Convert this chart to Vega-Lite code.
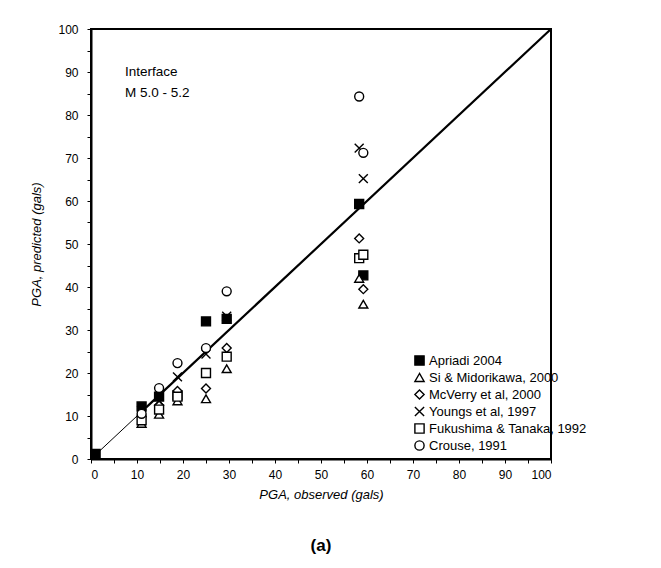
{
  "$schema": "https://vega.github.io/schema/vega-lite/v6.json",
  "autosize": "none",
  "width": 460,
  "height": 430,
  "padding": {"left": 91, "top": 29, "right": 110, "bottom": 109},
  "background": "white",
  "config": {
    "font": "Liberation Sans",
    "view": {"stroke": "black", "strokeWidth": 2},
    "axis": {
      "domainColor": "black",
      "domainWidth": 2,
      "tickColor": "black",
      "tickWidth": 1,
      "tickSize": 4,
      "labelFont": "Liberation Sans",
      "labelFontSize": 12,
      "labelColor": "black",
      "titleFont": "Liberation Sans",
      "titleFontSize": 13,
      "titleFontStyle": "italic",
      "titleFontWeight": "normal",
      "titleColor": "black",
      "grid": false
    },
    "legend": {
      "labelFont": "Liberation Sans",
      "labelFontSize": 13,
      "labelColor": "black",
      "symbolStrokeWidth": 1.4,
      "symbolSize": 85,
      "rowPadding": 2,
      "labelOffset": 3
    }
  },
  "title": {
    "text": "(a)",
    "orient": "bottom",
    "anchor": "middle",
    "fontSize": 17,
    "fontWeight": "bold",
    "font": "Liberation Sans",
    "color": "black",
    "offset": 37
  },
  "datasets": {
    "pga": [
      {"model": "Apriadi 2004", "obs": 1, "pred": 1.2},
      {"model": "Apriadi 2004", "obs": 11, "pred": 12.2},
      {"model": "Apriadi 2004", "obs": 14.8, "pred": 14.5},
      {"model": "Apriadi 2004", "obs": 18.8, "pred": 14.8},
      {"model": "Apriadi 2004", "obs": 25, "pred": 32},
      {"model": "Apriadi 2004", "obs": 29.5, "pred": 32.6},
      {"model": "Apriadi 2004", "obs": 58.3, "pred": 59.3},
      {"model": "Apriadi 2004", "obs": 59.2, "pred": 42.7},
      {"model": "Si & Midorikawa, 2000", "obs": 11, "pred": 8.3},
      {"model": "Si & Midorikawa, 2000", "obs": 14.8, "pred": 10.4},
      {"model": "Si & Midorikawa, 2000", "obs": 18.8, "pred": 13.5},
      {"model": "Si & Midorikawa, 2000", "obs": 25, "pred": 14},
      {"model": "Si & Midorikawa, 2000", "obs": 29.5, "pred": 21},
      {"model": "Si & Midorikawa, 2000", "obs": 58.3, "pred": 42},
      {"model": "Si & Midorikawa, 2000", "obs": 59.2, "pred": 36},
      {"model": "McVerry et al, 2000", "obs": 11, "pred": 9.8},
      {"model": "McVerry et al, 2000", "obs": 14.8, "pred": 12.5},
      {"model": "McVerry et al, 2000", "obs": 18.8, "pred": 15.8},
      {"model": "McVerry et al, 2000", "obs": 25, "pred": 16.4},
      {"model": "McVerry et al, 2000", "obs": 29.5, "pred": 25.8},
      {"model": "McVerry et al, 2000", "obs": 58.3, "pred": 51.3},
      {"model": "McVerry et al, 2000", "obs": 59.2, "pred": 39.5},
      {"model": "Youngs et al, 1997", "obs": 11, "pred": 11.3},
      {"model": "Youngs et al, 1997", "obs": 14.8, "pred": 13.5},
      {"model": "Youngs et al, 1997", "obs": 18.8, "pred": 19.1},
      {"model": "Youngs et al, 1997", "obs": 25, "pred": 24.4},
      {"model": "Youngs et al, 1997", "obs": 29.5, "pred": 33.2},
      {"model": "Youngs et al, 1997", "obs": 58.3, "pred": 72.3},
      {"model": "Youngs et al, 1997", "obs": 59.2, "pred": 65.2},
      {"model": "Fukushima & Tanaka, 1992", "obs": 11, "pred": 9},
      {"model": "Fukushima & Tanaka, 1992", "obs": 14.8, "pred": 11.5},
      {"model": "Fukushima & Tanaka, 1992", "obs": 18.8, "pred": 14.5},
      {"model": "Fukushima & Tanaka, 1992", "obs": 25, "pred": 20},
      {"model": "Fukushima & Tanaka, 1992", "obs": 29.5, "pred": 23.8},
      {"model": "Fukushima & Tanaka, 1992", "obs": 58.3, "pred": 46.7},
      {"model": "Fukushima & Tanaka, 1992", "obs": 59.2, "pred": 47.5},
      {"model": "Crouse, 1991", "obs": 11, "pred": 10.5},
      {"model": "Crouse, 1991", "obs": 14.8, "pred": 16.5},
      {"model": "Crouse, 1991", "obs": 18.8, "pred": 22.3},
      {"model": "Crouse, 1991", "obs": 25, "pred": 25.8},
      {"model": "Crouse, 1991", "obs": 29.5, "pred": 39},
      {"model": "Crouse, 1991", "obs": 58.3, "pred": 84.3},
      {"model": "Crouse, 1991", "obs": 59.2, "pred": 71.2}
    ]
  },
  "encoding": {
    "x": {
      "field": "obs",
      "type": "quantitative",
      "scale": {"domain": [0, 100], "nice": false},
      "axis": {
        "title": "PGA, observed (gals)",
        "values": [0, 5, 10, 15, 20, 25, 30, 35, 40, 45, 50, 55, 60, 65, 70, 75, 80, 85, 90, 95, 100],
        "labelExpr": "datum.value % 10 == 0 ? datum.label : ''",
        "labelPadding": 6,
        "titlePadding": 8
      }
    },
    "y": {
      "field": "pred",
      "type": "quantitative",
      "scale": {"domain": [0, 100], "nice": false},
      "axis": {
        "title": "PGA, predicted (gals)",
        "values": [0, 5, 10, 15, 20, 25, 30, 35, 40, 45, 50, 55, 60, 65, 70, 75, 80, 85, 90, 95, 100],
        "labelExpr": "datum.value % 10 == 0 ? datum.label : ''",
        "labelPadding": 9,
        "titlePadding": 14
      }
    }
  },
  "layer": [
    {
      "data": {"values": [{"obs": 0, "pred": 0}, {"obs": 100, "pred": 100}]},
      "mark": {"type": "line", "color": "black", "strokeWidth": 1},
      "encoding": {}
    },
    {
      "data": {"values": [{"obs": 12, "pred": 12}, {"obs": 100, "pred": 100}]},
      "mark": {"type": "line", "color": "black", "strokeWidth": 2.2},
      "encoding": {}
    },
    {
      "data": {"name": "pga"},
      "mark": {"type": "point", "strokeWidth": 1.4, "opacity": 1, "size": 80},
      "encoding": {
        "shape": {
          "field": "model",
          "type": "nominal",
          "scale": {
            "domain": ["Apriadi 2004", "Si & Midorikawa, 2000", "McVerry et al, 2000", "Youngs et al, 1997", "Fukushima & Tanaka, 1992", "Crouse, 1991"],
            "range": ["square", "triangle-up", "diamond", "M-1,-1L1,1M-1,1L1,-1", "square", "circle"]
          },
          "legend": {"title": null, "orient": "none", "legendX": 322, "legendY": 325}
        },
        "fill": {
          "field": "model",
          "type": "nominal",
          "scale": {
            "domain": ["Apriadi 2004", "Si & Midorikawa, 2000", "McVerry et al, 2000", "Youngs et al, 1997", "Fukushima & Tanaka, 1992", "Crouse, 1991"],
            "range": ["black", "white", "white", "white", "white", "white"]
          },
          "legend": {"title": null, "orient": "none", "legendX": 322, "legendY": 325}
        },
        "stroke": {
          "field": "model",
          "type": "nominal",
          "scale": {
            "domain": ["Apriadi 2004", "Si & Midorikawa, 2000", "McVerry et al, 2000", "Youngs et al, 1997", "Fukushima & Tanaka, 1992", "Crouse, 1991"],
            "range": ["black", "black", "black", "black", "black", "black"]
          },
          "legend": {"title": null, "orient": "none", "legendX": 322, "legendY": 325}
        }
      }
    },
    {
      "data": {"values": [
        {"obs": 7.4, "pred": 90, "label": "Interface"},
        {"obs": 7.4, "pred": 85.1, "label": "M 5.0 - 5.2"}
      ]},
      "mark": {"type": "text", "align": "left", "baseline": "middle", "fontSize": 13.5, "font": "Liberation Sans", "color": "black"},
      "encoding": {"text": {"field": "label"}}
    }
  ]
}
